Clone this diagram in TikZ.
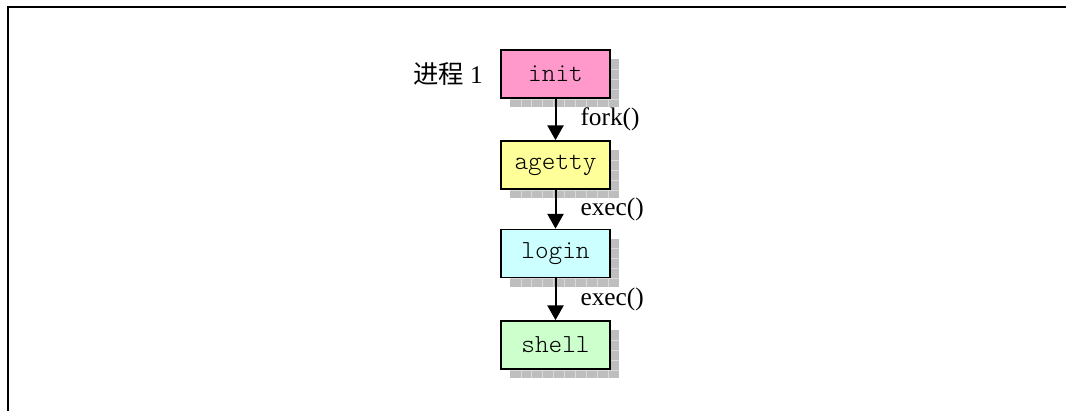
\documentclass[tikz,border=0pt]{standalone}
\usepackage{fontspec}
\setmainfont{Liberation Serif}
\newfontfamily\cjk{Noto Sans CJK SC}
\newfontfamily\boxfont{Latin Modern Mono Light}
\usetikzlibrary{arrows.meta,calc}
\definecolor{pinkbox}{HTML}{FF99CC}
\definecolor{yellowbox}{HTML}{FFFF99}
\definecolor{cyanbox}{HTML}{CCFFFF}
\definecolor{greenbox}{HTML}{CCFFCC}
\definecolor{shadowgray}{HTML}{BEBEBE}
\definecolor{shadowline}{HTML}{DADADA}
\tikzset{
  procbox/.style={draw=black, line width=1.3pt, minimum width=81.75pt, minimum height=36pt,
    inner sep=0pt, font=\boxfont\fontsize{19.5}{22}\selectfont},
  flow/.style={line width=1.5pt, -{Triangle[length=11pt,width=12pt]}},
  lbl/.style={inner sep=0pt, font=\fontsize{19}{22}\selectfont},
  frameline/.style={line width=1.8pt},
}
\newcommand{\boxshadow}[1]{%
  \begin{scope}[shift={(#1.north west)}]
    \fill[shadowgray] (10,10) rectangle (119,58);
    \foreach \i in {1,...,9} \draw[shadowline, line width=0.8pt] (10+\i*10.9,10) -- (10+\i*10.9,58);
    \foreach \j in {1,...,4} \draw[shadowline, line width=0.8pt] (10,10+\j*10) -- (119,10+\j*10);
  \end{scope}}
\begin{document}
\begin{tikzpicture}[x=0.75pt,y=-0.75pt]
\useasboundingbox (0,0) rectangle (1066,410);
\coordinate (fbl) at (8,412);
\coordinate (ftl) at (8,7);
\coordinate (ftr) at (1068,7);
\draw[frameline] (fbl) -- (ftl) -- (ftr);
\path (555.5,74) node[procbox, draw=none] (p1) {\phantom{init}};
\path (555.5,165) node[procbox, draw=none] (p2) {\phantom{agetty}};
\path (555.5,253.5) node[procbox, draw=none] (p3) {\phantom{login}};
\path (555.5,345) node[procbox, draw=none] (p4) {\phantom{shell}};
\boxshadow{p1}\boxshadow{p2}\boxshadow{p3}\boxshadow{p4}
\node[procbox, fill=pinkbox] (init) at (p1) {init};
\node[procbox, fill=yellowbox] (agetty) at (p2) {agetty};
\node[procbox, fill=cyanbox] (login) at (p3) {login};
\node[procbox, fill=greenbox] (shell) at (p4) {shell};
\node[lbl, anchor=east, xshift=-12.75pt] (proc) at (init.west) {{\cjk 进程} 1};
\draw[flow] (init.south) -- node[lbl, anchor=west, xshift=18pt] (l1) {fork()} (agetty.north);
\draw[flow] (agetty.south) -- node[lbl, anchor=west, xshift=18pt] (l2) {exec()} (login.north);
\draw[flow] (login.south) -- node[lbl, anchor=west, xshift=18pt] (l3) {exec()} (shell.north);
\end{tikzpicture}
\end{document}
